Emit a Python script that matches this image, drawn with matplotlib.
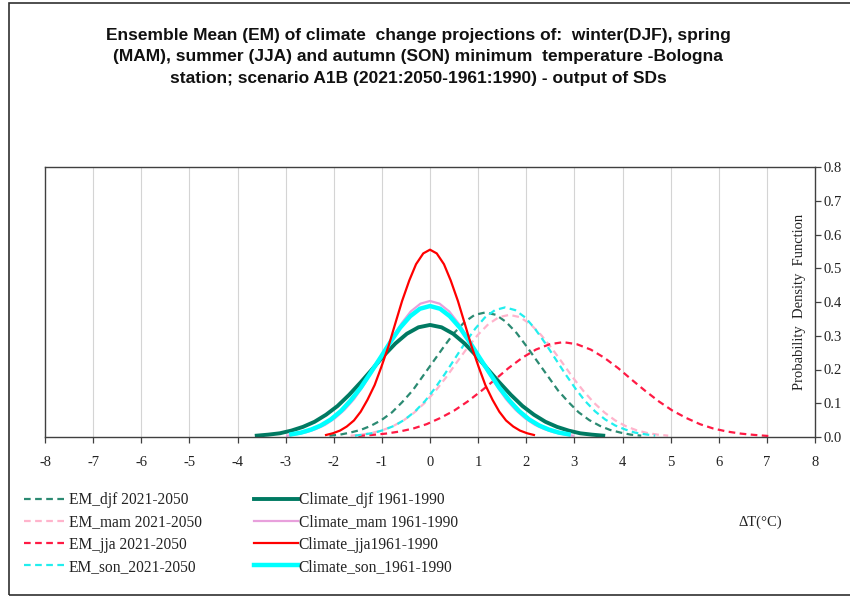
import matplotlib
matplotlib.use('Agg')
import matplotlib.pyplot as plt
from matplotlib.patches import Rectangle

# --- data (x in degC, y = pdf) ---
em_djf_x = [-2.09, -1.87, -1.66, -1.44, -1.23, -1.01, -0.79, -0.58, -0.36, -0.15, 0.07, 0.29, 0.50, 0.72, 0.93, 1.15,
            1.37, 1.58, 1.80, 2.01, 2.23, 2.45, 2.66, 2.88, 3.09, 3.31, 3.53, 3.74, 3.96, 4.17, 4.39]
em_djf_y = [0.004, 0.007, 0.013, 0.021, 0.033, 0.050, 0.073, 0.103, 0.138, 0.180, 0.224, 0.268, 0.308, 0.341, 0.362, 0.369,
            0.362, 0.341, 0.308, 0.268, 0.224, 0.180, 0.138, 0.103, 0.073, 0.050, 0.033, 0.021, 0.013, 0.007, 0.004]

em_mam_x = [-1.65, -1.43, -1.21, -0.99, -0.77, -0.55, -0.33, -0.11, 0.11, 0.33, 0.55, 0.77, 0.99, 1.21, 1.43, 1.65,
            1.87, 2.09, 2.31, 2.53, 2.75, 2.97, 3.19, 3.41, 3.63, 3.85, 4.07, 4.29, 4.51, 4.73, 4.95]
em_mam_y = [0.004, 0.007, 0.012, 0.020, 0.032, 0.049, 0.072, 0.101, 0.136, 0.176, 0.220, 0.263, 0.302, 0.334, 0.355, 0.362,
            0.355, 0.334, 0.302, 0.263, 0.220, 0.176, 0.136, 0.101, 0.072, 0.049, 0.032, 0.020, 0.012, 0.007, 0.004]

em_jja_x = [-1.49, -1.21, -0.92, -0.64, -0.35, -0.07, 0.21, 0.50, 0.78, 1.07, 1.35, 1.63, 1.92, 2.20, 2.49, 2.77,
            3.05, 3.34, 3.62, 3.91, 4.19, 4.47, 4.76, 5.04, 5.33, 5.61, 5.89, 6.18, 6.46, 6.75, 7.03]
em_jja_y = [0.003, 0.006, 0.010, 0.016, 0.025, 0.038, 0.056, 0.078, 0.105, 0.137, 0.170, 0.204, 0.235, 0.259, 0.275, 0.281,
            0.275, 0.259, 0.235, 0.204, 0.170, 0.137, 0.105, 0.078, 0.056, 0.038, 0.025, 0.016, 0.010, 0.006, 0.003]

em_son_x = [-1.56, -1.35, -1.14, -0.94, -0.73, -0.52, -0.31, -0.10, 0.10, 0.31, 0.52, 0.73, 0.94, 1.14, 1.35, 1.56,
            1.77, 1.98, 2.18, 2.39, 2.60, 2.81, 3.02, 3.22, 3.43, 3.64, 3.85, 4.06, 4.26, 4.47, 4.68]
em_son_y = [0.004, 0.008, 0.013, 0.022, 0.034, 0.052, 0.076, 0.107, 0.144, 0.187, 0.233, 0.279, 0.321, 0.354, 0.376, 0.384,
            0.376, 0.354, 0.321, 0.279, 0.233, 0.187, 0.144, 0.107, 0.076, 0.052, 0.034, 0.022, 0.013, 0.008, 0.004]

cl_djf_x = [-3.60, -3.36, -3.12, -2.88, -2.64, -2.40, -2.16, -1.92, -1.68, -1.44, -1.20, -0.96, -0.72, -0.48, -0.24, 0.00,
            0.24, 0.48, 0.72, 0.96, 1.20, 1.44, 1.68, 1.92, 2.16, 2.40, 2.64, 2.88, 3.12, 3.36, 3.60]
cl_djf_y = [0.004, 0.007, 0.011, 0.019, 0.030, 0.045, 0.066, 0.092, 0.125, 0.162, 0.201, 0.241, 0.277, 0.306, 0.325, 0.332,
            0.325, 0.306, 0.277, 0.241, 0.201, 0.162, 0.125, 0.092, 0.066, 0.045, 0.030, 0.019, 0.011, 0.007, 0.004]

cl_mam_x = [-2.97, -2.77, -2.57, -2.38, -2.18, -1.98, -1.78, -1.58, -1.39, -1.19, -0.99, -0.79, -0.59, -0.40, -0.20, 0.00,
            0.20, 0.40, 0.59, 0.79, 0.99, 1.19, 1.39, 1.58, 1.78, 1.98, 2.18, 2.38, 2.57, 2.77, 2.97]
cl_mam_y = [0.004, 0.008, 0.014, 0.023, 0.036, 0.055, 0.080, 0.112, 0.151, 0.196, 0.244, 0.293, 0.337, 0.372, 0.395, 0.403,
            0.395, 0.372, 0.337, 0.293, 0.244, 0.196, 0.151, 0.112, 0.080, 0.055, 0.036, 0.023, 0.014, 0.008, 0.004]

cl_jja_x = [-2.16, -2.02, -1.87, -1.73, -1.58, -1.44, -1.30, -1.15, -1.01, -0.86, -0.72, -0.58, -0.43, -0.29, -0.14, 0.00,
            0.14, 0.29, 0.43, 0.58, 0.72, 0.86, 1.01, 1.15, 1.30, 1.44, 1.58, 1.73, 1.87, 2.02, 2.16]
cl_jja_y = [0.006, 0.011, 0.019, 0.031, 0.049, 0.075, 0.110, 0.154, 0.208, 0.270, 0.337, 0.403, 0.464, 0.512, 0.544, 0.555,
            0.544, 0.512, 0.464, 0.403, 0.337, 0.270, 0.208, 0.154, 0.110, 0.075, 0.049, 0.031, 0.019, 0.011, 0.006]

cl_son_x = [-2.88, -2.68, -2.47, -2.27, -2.06, -1.85, -1.65, -1.44, -1.24, -1.03, -0.82, -0.62, -0.41, -0.21, 0.00,
            0.21, 0.41, 0.62, 0.82, 1.03, 1.24, 1.44, 1.65, 1.85, 2.06, 2.27, 2.47, 2.68, 2.88]
cl_son_y = [0.008, 0.013, 0.022, 0.034, 0.052, 0.077, 0.108, 0.146, 0.189, 0.235, 0.282, 0.324, 0.358, 0.380, 0.388,
            0.380, 0.358, 0.324, 0.282, 0.235, 0.189, 0.146, 0.108, 0.077, 0.052, 0.034, 0.022, 0.013, 0.008]

x_ticks = list(range(-8, 9))
y_ticks = [0.0, 0.1, 0.2, 0.3, 0.4, 0.5, 0.6, 0.7, 0.8]

title = ("Ensemble Mean (EM) of climate  change projections of:  winter(DJF), spring\n"
         "(MAM), summer (JJA) and autumn (SON) minimum  temperature -Bologna\n"
         "station; scenario A1B (2021:2050-1961:1990) - output of SDs")

serif = ['Liberation Serif', 'DejaVu Serif']

fig = plt.figure(figsize=(8.5, 5.98), dpi=100, facecolor='white')
ax = fig.add_axes([45 / 850, (598 - 437) / 598, 770 / 850, 270 / 598])

# outer chart frame
fig.patches.append(Rectangle((9 / 850, 3 / 598), 1.2, 592 / 598, transform=fig.transFigure,
                             fill=False, edgecolor='#303030', linewidth=1.2, clip_on=False))

for xv in x_ticks[1:-1]:
    ax.axvline(xv, color='#d4d4d4', linewidth=0.8, zorder=0)

dash = (3, 2)
l1, = ax.plot(em_djf_x, em_djf_y, color='#2b8a72', lw=1.6, dashes=dash, label='EM_djf 2021-2050')
l2, = ax.plot(em_mam_x, em_mam_y, color='#ffb4cc', lw=1.6, dashes=dash, label='EM_mam 2021-2050')
l3, = ax.plot(em_jja_x, em_jja_y, color='#ff1a44', lw=1.6, dashes=dash, label='EM_jja 2021-2050')
l4, = ax.plot(em_son_x, em_son_y, color='#22eeee', lw=1.6, dashes=dash, label='EM_son_2021-2050')
l5, = ax.plot(cl_djf_x, cl_djf_y, color='#007a62', lw=2.8, label='Climate_djf 1961-1990')
l6, = ax.plot(cl_mam_x, cl_mam_y, color='#e8a0dc', lw=1.6, label='Climate_mam 1961-1990')
l8, = ax.plot(cl_son_x, cl_son_y, color='#00ffff', lw=3.2, label='Climate_son_1961-1990')
l7, = ax.plot(cl_jja_x, cl_jja_y, color='#ff0000', lw=1.6, label='Climate_jja1961-1990')

ax.set_xlim(-8, 8)
ax.set_ylim(0, 0.8)
ax.set_xticks(x_ticks)
ax.set_xticklabels([str(v) for v in x_ticks], family=serif, fontsize=10.5, color='#222222')
ax.yaxis.tick_right()
ax.set_yticks(y_ticks)
ax.set_yticklabels([f'{v:.1f}' for v in y_ticks], family=serif, fontsize=10.5, color='#222222')
ax.tick_params(axis='both', direction='out', length=4, color='#404040', width=0.9)
ax.tick_params(axis='x', pad=10)
ax.tick_params(axis='y', pad=2)
for s in ax.spines.values():
    s.set_color('#404040')
    s.set_linewidth(1.0)

ax.text(0.98, 0.5, 'Probability  Density  Function', transform=ax.transAxes, rotation=90,
        ha='center', va='center', family=serif, fontsize=10.5, color='#222222')

fig.text(760 / 850, 1 - 522 / 598, 'ΔT(°C)', ha='center', va='center',
         family=serif, fontsize=10.5, color='#222222')

fig.text(418 / 850, 1 - 57 / 598, title, ha='center', va='center', family='Liberation Sans',
         fontweight='bold', fontsize=12.5, linespacing=1.55, color='#111111')

handles = [l1, l2, l3, l4, l5, l6, l7, l8]
leg = fig.legend(handles=handles, labels=[h.get_label() for h in handles], ncol=2,
                 loc='upper left', bbox_to_anchor=(18 / 850, 1 - 486 / 598), frameon=False,
                 prop={'family': serif, 'size': 11.2}, handlelength=2.8, handletextpad=0.05,
                 columnspacing=3.4, labelspacing=0.4, borderaxespad=0)
for t in leg.get_texts():
    t.set_color('#222222')

fig.savefig('out.png', dpi=100, facecolor='white')
